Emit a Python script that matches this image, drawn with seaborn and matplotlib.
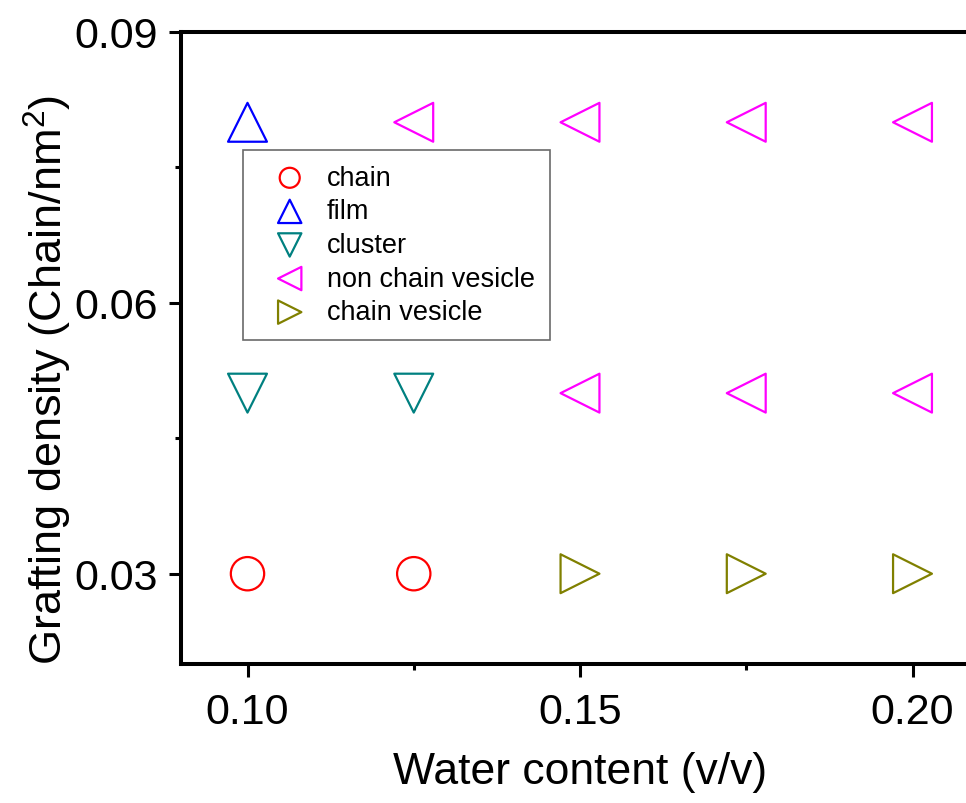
import numpy as np
import pandas as pd
import seaborn as sns
import matplotlib
matplotlib.use("Agg")
import matplotlib.pyplot as plt
from matplotlib.ticker import MultipleLocator, FixedLocator

# ---- data ----
categories = ["chain", "film", "cluster", "non chain vesicle", "chain vesicle"]
chain_x = [0.10, 0.125]
chain_y = [0.03, 0.03]
film_x = [0.10]
film_y = [0.08]
cluster_x = [0.10, 0.125]
cluster_y = [0.05, 0.05]
ncv_x = [0.125, 0.15, 0.175, 0.20, 0.15, 0.175, 0.20]
ncv_y = [0.08, 0.08, 0.08, 0.08, 0.05, 0.05, 0.05]
cv_x = [0.15, 0.175, 0.20]
cv_y = [0.03, 0.03, 0.03]
x_ticks = [0.10, 0.15, 0.20]
x_ticklabels = ["0.10", "0.15", "0.20"]
y_ticks = [0.03, 0.06, 0.09]
y_ticklabels = ["0.03", "0.06", "0.09"]

series = [
    (categories[0], chain_x, chain_y, "o", "#FF0000", 24),
    (categories[1], film_x, film_y, "^", "#0000FF", 28),
    (categories[2], cluster_x, cluster_y, "v", "#008080", 28),
    (categories[3], ncv_x, ncv_y, "<", "#FF00FF", 28),
    (categories[4], cv_x, cv_y, ">", "#808000", 28),
]

sns.set_style("ticks")
plt.rcParams["font.family"] = ["Liberation Sans", "DejaVu Sans"]
plt.rcParams["mathtext.fontset"] = "custom"
plt.rcParams["mathtext.rm"] = "Liberation Sans"
plt.rcParams["mathtext.it"] = "Liberation Sans:italic"
plt.rcParams["text.color"] = "black"
plt.rcParams["axes.labelcolor"] = "black"
plt.rcParams["xtick.color"] = "black"
plt.rcParams["ytick.color"] = "black"

fig = plt.figure(figsize=(9.66, 8.04), dpi=100)
ax = fig.add_axes([181 / 966, 1 - 665 / 804, (979 - 181) / 966, (665 - 33) / 804])

for name, xs, ys, m, c, ms in series:
    df = pd.DataFrame({"x": xs, "y": ys})
    sns.scatterplot(data=df, x="x", y="y", marker=m, s=ms ** 2, color=c,
                    edgecolor=c, facecolor="none", linewidth=1.6, label=name,
                    ax=ax, legend=True)

ax.set_xlim(0.09, 0.21)
ax.set_ylim(0.02, 0.09)
ax.xaxis.set_major_locator(FixedLocator(x_ticks))
ax.set_xticklabels(x_ticklabels)
ax.xaxis.set_minor_locator(MultipleLocator(0.025))
ax.yaxis.set_major_locator(FixedLocator(y_ticks))
ax.set_yticklabels(y_ticklabels)
ax.yaxis.set_minor_locator(MultipleLocator(0.015))

for s in ax.spines.values():
    s.set_linewidth(2.9)
    s.set_color("black")
ax.spines["right"].set_visible(False)

ax.tick_params(axis="both", which="major", direction="out", length=9, width=2.2,
               labelsize=31, pad=8, colors="black", labelcolor="black")
ax.tick_params(axis="x", which="major", pad=11)
ax.tick_params(axis="both", which="minor", direction="out", length=4.5, width=2.2)
ax.tick_params(top=False, right=False, which="both")

ax.set_xlabel("Water content (v/v)", fontsize=32, labelpad=14, color="black")
ax.set_ylabel("Grafting density (Chain/nm$^2$)", fontsize=32.5, color="black")
ax.yaxis.set_label_coords((74 - 181) / 798, (665 - 380) / 632)

leg = ax.legend(loc="upper left", bbox_to_anchor=(62 / 798, (665 - 151) / 632),
                borderaxespad=0, fontsize=19.5, markerscale=0.6, frameon=True,
                fancybox=False, edgecolor="#444444", labelspacing=0.28,
                handletextpad=0.2, borderpad=0.55, handlelength=2.35)
leg.get_frame().set_linewidth(1.2)
for t in leg.get_texts():
    t.set_color("black")

fig.savefig("out.png", dpi=100)
